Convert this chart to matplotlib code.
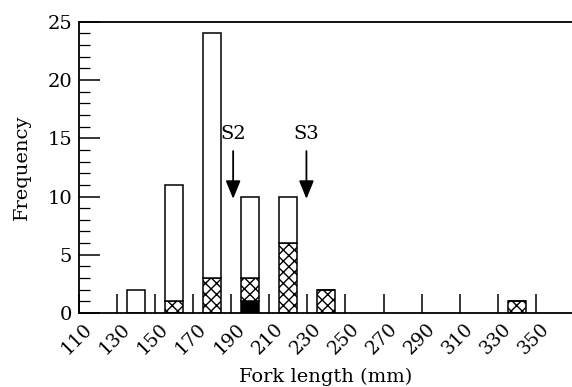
import numpy as np
import matplotlib

matplotlib.use("Agg")
import matplotlib.pyplot as plt
import matplotlib.transforms as mtransforms
from matplotlib.ticker import MultipleLocator

plt.rcParams["font.family"] = ["DejaVu Serif"]
plt.rcParams["hatch.linewidth"] = 1.0

# bin centres (mm) and counts
centres = [140, 160, 180, 200, 220, 240, 340]
total = [2, 11, 24, 10, 10, 2, 1]
hatched = [0, 1, 3, 2, 6, 2, 1]      # cross-hatched part (above black)
black = [0, 0, 0, 1, 0, 0, 0]        # solid black part
xticks = list(range(110, 351, 20))
arrows = {"S2": 191, "S3": 229.5}

centres = np.array(centres)
total = np.array(total)
hatched = np.array(hatched)
black = np.array(black)
openpart = total - hatched - black
W = 9.5

fig = plt.figure(figsize=(5.72, 3.87), dpi=100)
ax = fig.add_axes([0.138, 0.191, 0.862, 0.753])

ax.bar(centres, black, W, color="black", edgecolor="black", lw=1.1)
ax.bar(centres, hatched, W, bottom=black, color="white", edgecolor="black",
       hatch="xxx", lw=1.1)
ax.bar(centres, openpart, W, bottom=black + hatched, color="white",
       edgecolor="black", lw=1.1)

for lab, xa in arrows.items():
    ax.annotate("", xy=(xa, 9.8), xytext=(xa, 13.9),
                arrowprops=dict(arrowstyle="-|>,head_width=0.45,head_length=1.1",
                                color="black", lw=1.3, shrinkA=0, shrinkB=0))
    ax.text(xa, 15.4, lab, ha="center", va="center", fontsize=14)

ax.set_xlim(110, 369)
ax.set_ylim(0, 25)
ax.set_xticks(xticks)
ax.set_xticklabels([])
# rotated tick labels, a bit to the right of their ticks as in the original
trans = mtransforms.blended_transform_factory(ax.transData, ax.transAxes) + \
    mtransforms.ScaledTranslation(0.045, -0.065, fig.dpi_scale_trans)
for t in xticks:
    ax.text(t, 0, str(t), transform=trans, rotation=45, ha="right", va="top",
            rotation_mode="anchor", fontsize=13.5, clip_on=False)

ax.yaxis.set_major_locator(MultipleLocator(5))
ax.yaxis.set_minor_locator(MultipleLocator(1))
ax.tick_params(axis="x", direction="in", length=14, width=1.1)
ax.tick_params(axis="y", which="major", direction="in", length=15, width=1.1,
               labelsize=14, pad=5)
ax.tick_params(axis="y", which="minor", direction="in", length=8, width=0.9)
ax.spines["right"].set_visible(False)
for s in ("left", "top", "bottom"):
    ax.spines[s].set_linewidth(1.3)

fig.text(0.57, 0.025, "Fork length (mm)", ha="center", va="center",
         fontsize=14)
ax.set_ylabel("Frequency", fontsize=14, labelpad=12)

fig.savefig("out.png", dpi=100)
